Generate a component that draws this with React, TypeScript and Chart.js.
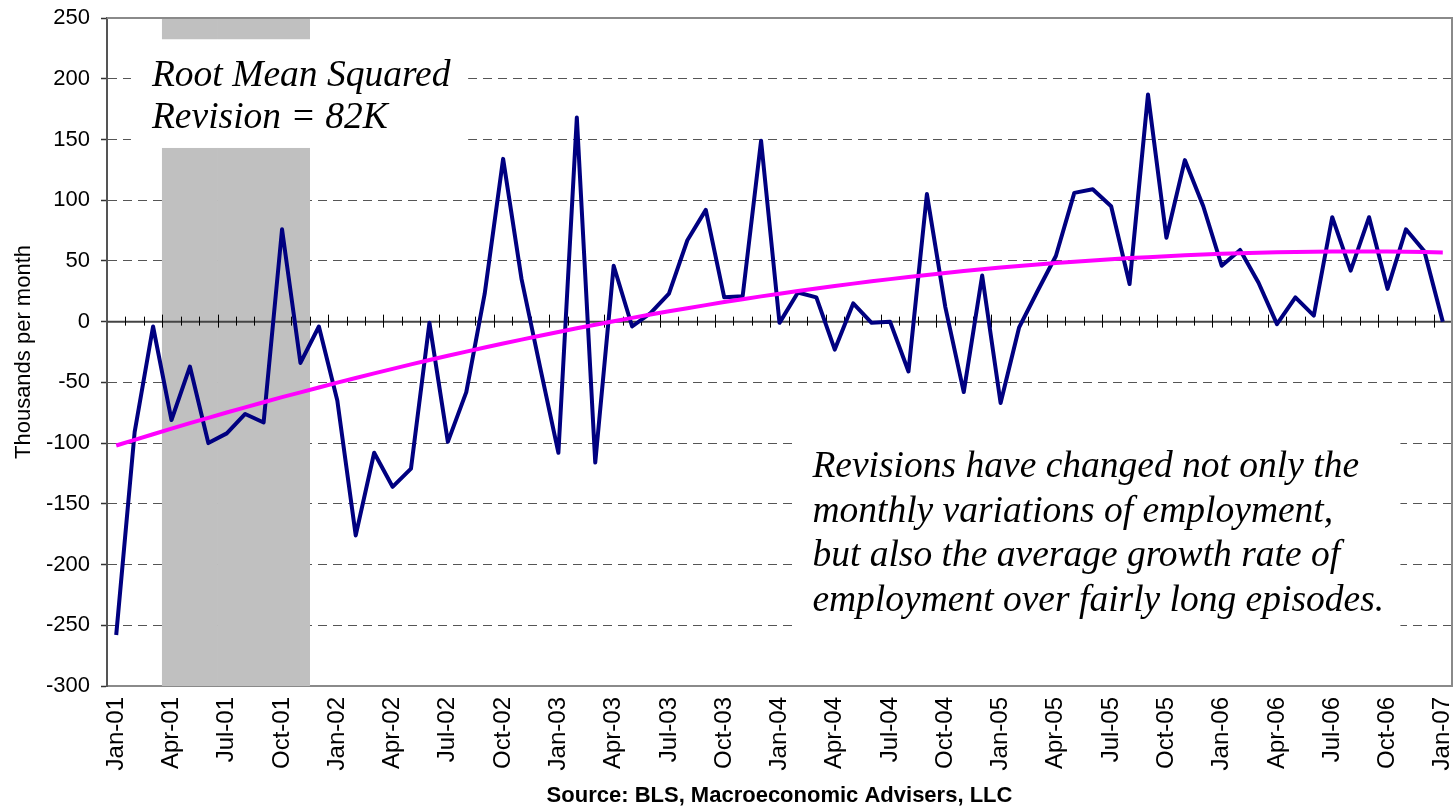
import React, { useEffect, useRef } from "react";
import { Chart, registerables } from "chart.js";

Chart.register(...registerables);

// ---------- data ----------
const MONTHS = ["Jan", "Feb", "Mar", "Apr", "May", "Jun", "Jul", "Aug", "Sep", "Oct", "Nov", "Dec"];
const YEARS = ["01", "02", "03", "04", "05", "06", "07"];
const N_MONTHS = 73;
const categories: string[] = [];
for (const yr of YEARS) for (const m of MONTHS) if (categories.length < N_MONTHS) categories.push(`${m}-${yr}`);

// Revisions, thousands per month
const revisions: number[] = [
  -258, -91, -4, -81, -37, -100, -92, -76, -83, 76, -34, -4,
  -65, -176, -108, -136, -121, -1, -99, -58, 23, 134, 35, -37,
  -108, 168, -116, 46, -4, 7, 23, 67, 92, 20, 21, 149,
  -1, 24, 20, -23, 15, -1, 0, -41, 105, 12, -58, 38,
  -67, -5, 25, 54, 106, 109, 95, 31, 187, 69, 133, 95,
  46, 59, 32, -2, 20, 5, 86, 42, 86, 27, 76, 58,
  0,
];

// Trend (magenta curve)
const trend: number[] = [
  -102, -97.3, -92.7, -88.1, -83.6, -79.2, -74.8, -70.6, -66.4, -62.2,
  -58.2, -54.2, -50.2, -46.4, -42.6, -38.9, -35.2, -31.6, -28.1, -24.7,
  -21.3, -18.0, -14.8, -11.6, -8.6, -5.5, -2.6, 0.3, 3.1, 5.8,
  8.5, 11.1, 13.6, 16.1, 18.4, 20.8, 23.0, 25.2, 27.3, 29.3,
  31.3, 33.2, 35.0, 36.7, 38.4, 40.0, 41.6, 43.1, 44.5, 45.8,
  47.0, 48.2, 49.4, 50.4, 51.4, 52.3, 53.1, 53.9, 54.6, 55.2,
  55.8, 56.3, 56.7, 57.1, 57.3, 57.5, 57.7, 57.7, 57.7, 57.7,
  57.5, 57.3, 57.0,
];

// Shaded recession months
const recessionStart = "Apr-01";
const recessionEnd = "Nov-01";

const Y_MIN = -300;
const Y_MAX = 250;
const Y_STEP = 50;
const TICK_EVERY = 3;

const note1Lines = ["Root Mean Squared", "Revision = 82K"];
const note2Lines = [
  "Revisions have changed not only the",
  "monthly variations of employment,",
  "but also the average growth rate of",
  "employment over fairly long episodes.",
];
const yTitle = "Thousands per month";
const sourceText = "Source: BLS, Macroeconomic Advisers, LLC";

// ---------- derived ----------
const rs = categories.indexOf(recessionStart);
const re = categories.indexOf(recessionEnd);
const bandData = categories.map((_, i) => (i >= rs && i <= re ? [Y_MIN, Y_MAX] : null));

const SANS = "'Liberation Sans', Arial, Helvetica, sans-serif";
const SERIF = "'Liberation Serif', 'Times New Roman', Times, serif";

// annotation boxes in data units (category index / value)
const notes = [
  { x0: 0.8, x1: 19.1, top: 232.5, bottom: 143, padX: 21, baselines: [47, 89], lines: note1Lines },
  { x0: 36.7, x1: 69.7, top: -85, bottom: -278, padX: 20, baselines: [52, 97, 141, 186], lines: note2Lines },
];

const decorPlugin = {
  id: "decor",
  afterDatasetDraw(chart: any, args: any) {
    if (args.index !== 2) return;
    const { ctx, chartArea: a, scales } = chart;
    const x = scales.x;
    const y = scales.y;
    ctx.save();

    // white annotation boxes + text
    for (const n of notes) {
      const l = x.getPixelForValue(n.x0);
      const r = x.getPixelForValue(n.x1);
      const t = y.getPixelForValue(n.top);
      const b = y.getPixelForValue(n.bottom);
      ctx.fillStyle = "#ffffff";
      ctx.fillRect(l, t, r - l, b - t);
      ctx.fillStyle = "#000000";
      ctx.font = `italic 37.5px ${SERIF}`;
      ctx.textAlign = "left";
      ctx.textBaseline = "alphabetic";
      n.lines.forEach((s, k) => ctx.fillText(s, l + n.padX, t + n.baselines[k]));
    }

    // horizontal axis at zero with tick marks between categories
    const y0 = y.getPixelForValue(0);
    ctx.strokeStyle = "#444444";
    ctx.lineWidth = 2;
    ctx.beginPath();
    ctx.moveTo(a.left, y0);
    ctx.lineTo(a.right, y0);
    ctx.stroke();
    ctx.strokeStyle = "#000000";
    ctx.lineWidth = 1;
    for (let i = 0; i < categories.length; i++) {
      const px = Math.round(x.getPixelForValue(i + 0.5)) + 0.5;
      const major = (i + 1) % TICK_EVERY === 0;
      ctx.beginPath();
      ctx.moveTo(px, y0 - (major ? 7 : 5));
      ctx.lineTo(px, y0 + (major ? 6 : 4));
      ctx.stroke();
    }

    // top and right plot border
    ctx.strokeStyle = "#8a8a8a";
    ctx.lineWidth = 2;
    ctx.beginPath();
    ctx.moveTo(a.left, a.top);
    ctx.lineTo(a.right, a.top);
    ctx.lineTo(a.right, a.bottom);
    ctx.stroke();
    ctx.restore();
  },
};

export default function App() {
  const ref = useRef<HTMLCanvasElement | null>(null);

  useEffect(() => {
    if (!ref.current) return;
    Chart.defaults.font.family = SANS;
    Chart.defaults.color = "#000000";
    const chart = new Chart(ref.current, {
      type: "bar",
      data: {
        labels: categories,
        datasets: [
          {
            type: "line",
            label: "Trend",
            data: trend,
            borderColor: "#FF00FF",
            borderWidth: 4,
            borderJoinStyle: "round",
            pointRadius: 0,
            tension: 0,
            order: 0,
          } as any,
          {
            type: "line",
            label: "Revisions",
            data: revisions,
            borderColor: "#000080",
            borderWidth: 4,
            borderJoinStyle: "round",
            pointRadius: 0,
            tension: 0,
            order: 1,
          } as any,
          {
            type: "bar",
            label: "Recession",
            data: bandData as any,
            backgroundColor: "#C0C0C0",
            borderWidth: 0,
            barPercentage: 1,
            categoryPercentage: 1,
            order: 2,
          } as any,
        ],
      },
      options: {
        animation: false,
        responsive: true,
        maintainAspectRatio: false,
        layout: { padding: { top: 18, right: 1, left: 0, bottom: 0 } },
        plugins: { legend: { display: false }, tooltip: { enabled: false } },
        scales: {
          x: {
            type: "category",
            offset: true,
            grid: { display: false, drawTicks: false },
            border: { display: true, color: "#8a8a8a", width: 2 },
            ticks: {
              autoSkip: false,
              minRotation: 90,
              maxRotation: 90,
              padding: 11,
              font: { size: 24, family: SANS },
              color: "#000000",
              callback: (_v: any, idx: number) => (idx % TICK_EVERY === 0 ? categories[idx] : ""),
            },
            title: {
              display: true,
              text: sourceText,
              font: { size: 22, weight: "bold", family: SANS },
              color: "#000000",
              padding: { top: 0, bottom: 0 },
            },
            afterFit: (s: any) => {
              s.height = 123;
              s.paddingLeft = 0;
              s.paddingRight = 0;
            },
          } as any,
          y: {
            min: Y_MIN,
            max: Y_MAX,
            ticks: {
              stepSize: Y_STEP,
              padding: 11,
              font: { size: 22, family: SANS },
              color: "#000000",
            },
            grid: {
              color: (c: any) =>
                c.tick && (c.tick.value === 0 || c.tick.value === Y_MAX || c.tick.value === Y_MIN)
                  ? "rgba(0,0,0,0)"
                  : "#555555",
              lineWidth: 1,
              drawTicks: true,
              tickLength: 6,
              tickColor: "#333333",
              tickWidth: 1.5,
              tickBorderDash: [],
            },
            border: { display: true, color: "#555555", width: 2, dash: [9, 6] },
            title: {
              display: true,
              text: yTitle,
              font: { size: 22, family: SANS },
              color: "#000000",
              padding: { top: 11, bottom: 0 },
            },
            afterFit: (s: any) => {
              s.width = 107;
              s.paddingTop = 0;
              s.paddingBottom = 0;
            },
          } as any,
        },
      },
      plugins: [decorPlugin],
    });
    return () => chart.destroy();
  }, []);

  return (
    <div style={{ position: "fixed", left: 0, top: 0, width: 1453, height: 809, background: "#ffffff" }}>
      <canvas ref={ref} />
    </div>
  );
}
